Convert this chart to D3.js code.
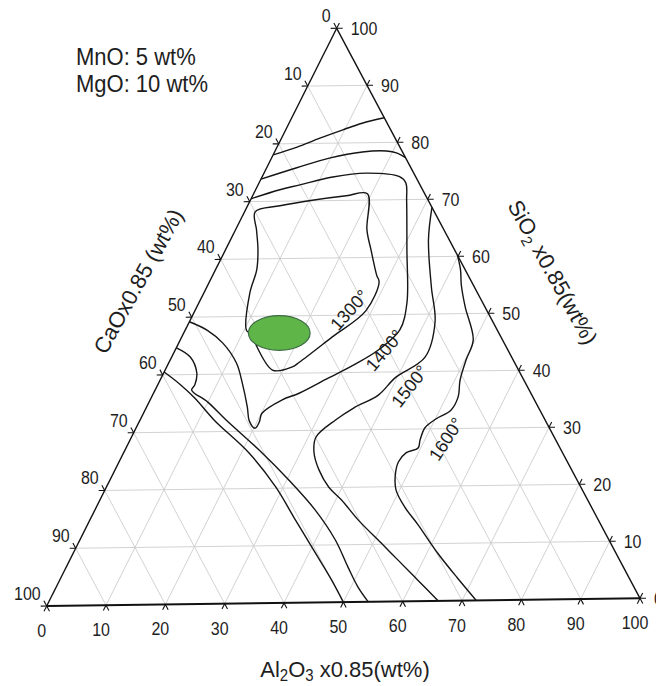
<!DOCTYPE html>
<html>
<head>
<meta charset="utf-8">
<script src="https://cdn.jsdelivr.net/npm/d3@7"></script>
<style>
  body { margin: 0; background: #fff; }
  svg { display: block; }
  text { font-family: "Liberation Sans", Arial, Helvetica, sans-serif; fill: #1e1e1e; }
</style>
</head>
<body>
<svg id="chart" width="656" height="686"></svg>
<script>
// ---------------- DATA (compositions as [Al2O3 x0.85, SiO2 x0.85] wt%) ----------------
const tickValues = [0, 10, 20, 30, 40, 50, 60, 70, 80, 90, 100];
const caoTickLabels = ["0", "10", "20", "30", "40", "50", "60", "70", "80", "90", "100"];
const sio2TickLabels = ["0", "10", "20", "30", "40", "50", "60", "70", "80", "90", "100"];
const al2o3TickLabels = ["0", "10", "20", "30", "40", "50", "60", "70", "80", "90", "100"];

const noteLines = ["MnO: 5 wt%", "MgO: 10 wt%"];

// isotherm 1300 (closed)
const iso1300 = [[1.8,68.2],[5.5,69.2],[10.5,70.1],[15.9,70.8],[19.3,71.1],[22.3,64.8],[24.7,61.3],
  [27.8,56.9],[28.8,55.7],[29.0,50.7],[25.5,46.2],[22.1,41.9],[21.3,41.1],[18.2,40.6],[11.2,47.1],
  [10.4,47.6],[7.8,54.1],[7.0,58.1],[5.5,61.6],[3.6,65.0]];
// isotherm 1400 (both ends on the CaO-SiO2 side)
const iso1400 = [[0,70.5],[4.1,72.0],[7.1,72.8],[12.0,74.1],[17.3,74.7],[23.3,74.0],[24.9,72.9],
  [26.5,69.9],[30.8,61.2],[35.3,52.0],[36.4,47.3],[34.5,43.9],[31.8,41.5],[28.4,39.1],[24.7,36.5],
  [22.4,35.4],[20.1,33.1],[20.4,31.6],[20.2,30.5],[18.6,31.8],[17.1,34.2],[14.2,38.4],[11.5,41.9],
  [7.5,45.4],[3.7,47.7],[0,49.2]];
// isotherm 1500
const iso1500 = [[31.4,68.6],[33.6,62.9],[38.1,54.7],[41.7,48.6],[43.0,42.5],[39.7,39.0],[38.3,36.0],
  [35.2,33.8],[33.2,31.8],[31.3,28.8],[32.3,26.1],[34.6,23.1],[37.7,20.1],[41.0,17.8],[45.5,14.3],
  [51.4,10.2],[55.7,7.2],[60.7,3.7],[66.0,0]];
// isotherm 1600
const iso1600 = [[39.8,60.2],[41.6,57.6],[43.0,55.0],[45.5,51.2],[49.7,45.4],[50.2,41.9],[50.9,38.4],
  [52.0,35.5],[51.9,33.2],[50.1,31.7],[49.0,30.2],[49.2,28.1],[49.55,26.7],[47.95,25.9],[47.4,24.3],
  [48.0,22.0],[49.4,19.4],[52.35,16.4],[56.1,13.3],[61.8,8.35],[67.3,3.95],[72.4,0]];
// upper (silica-rich) unlabeled isotherms
const isoTopA = [[0,78.1],[3.4,79.4],[6.5,80.9],[9.7,82.3],[12.4,83.4],[15.7,84.3]];
const isoTopB = [[0,73.9],[5.1,75.8],[9.8,77.4],[14.9,78.4],[18.9,78.5],[20.9,78.1],[22.7,77.3]];
// lime-rich unlabeled isotherms
const isoLowA = [[0,40.5],[3.7,38.35],[7.4,35.9],[12.6,32.0],[21.3,26.2],[28.75,20.2],[34.9,14.4],
  [41.1,8.6],[46.1,3.9],[50,0]];
const isoLowB = [[0,44.7],[3.1,43.1],[5.6,40.3],[6.3,38.2],[6.2,37.3],[9.9,35.2],[14.6,32.0],
  [22.75,26.7],[30.35,21.4],[37.4,16.1],[43.35,10.85],[47.8,6.1],[51.2,2.6],[54.2,0]];

const isoLabels = ["1300°", "1400°", "1500°", "1600°"];

// green target region: centre composition and half-widths (wt%)
const targetCenter = [16.2, 47.05];
const targetHalfWidth = [5.2, 3.0];

// ---------------- LAYOUT ----------------
const A = [336.7, 28.3];   // SiO2 apex
const B = [46.7, 606];     // CaO corner
const C = [640, 598.3];    // Al2O3 corner
const labelAnchors = [[26.1, 50.9], [35.5, 43.8], [42.8, 37.5], [53.5, 28.2]];
const labelAngles = [-48, -50, -52, -57];

const svg = d3.select("#chart");
const pct = d3.scaleLinear().domain([0, 100]).range([0, 1]);
function proj(al, si) {
  const u = pct(al), v = pct(si);
  return [B[0] + u * (C[0] - B[0]) + v * (A[0] - B[0]),
          B[1] + u * (C[1] - B[1]) + v * (A[1] - B[1])];
}
function unit(p, q) { const dx = q[0] - p[0], dy = q[1] - p[1], L = Math.hypot(dx, dy); return [dx / L, dy / L]; }

// grid
const gridSegs = [];
tickValues.filter(v => v > 0 && v < 100).forEach(v => {
  gridSegs.push([proj(0, v), proj(100 - v, v)]);        // const SiO2
  gridSegs.push([proj(v, 0), proj(v, 100 - v)]);        // const Al2O3
  gridSegs.push([proj(100 - v, 0), proj(0, 100 - v)]);  // const CaO
});
svg.append("g").selectAll("line").data(gridSegs).join("line")
  .attr("x1", d => d[0][0]).attr("y1", d => d[0][1])
  .attr("x2", d => d[1][0]).attr("y2", d => d[1][1])
  .attr("stroke", "#cdcdcd").attr("stroke-width", 0.9);

// triangle frame
const frame = svg.append("g").attr("fill", "none").attr("stroke", "#111");
frame.append("line").attr("x1", B[0]).attr("y1", B[1]).attr("x2", A[0]).attr("y2", A[1]).attr("stroke-width", 1.4);
frame.append("line").attr("x1", A[0]).attr("y1", A[1]).attr("x2", C[0]).attr("y2", C[1]).attr("stroke-width", 1.4);
frame.append("line").attr("x1", B[0]).attr("y1", B[1]).attr("x2", C[0]).attr("y2", C[1]).attr("stroke-width", 2);

// ticks
const tk = 6;
const ticks = [];
const dLeft1 = unit(C, B), dLeft2 = unit(C, A);
const dRight1 = unit(B, C), dRight2 = unit(B, A);
const dBot1 = unit(A, B), dBot2 = unit(A, C);
tickValues.forEach(v => {
  const pl = proj(0, 100 - v);
  ticks.push([pl, dLeft1], [pl, dLeft2]);
  const pr = proj(100 - v, v);
  ticks.push([pr, dRight1], [pr, dRight2]);
  const pb = proj(v, 0);
  ticks.push([pb, dBot1], [pb, dBot2]);
});
svg.append("g").selectAll("line").data(ticks).join("line")
  .attr("x1", d => d[0][0]).attr("y1", d => d[0][1])
  .attr("x2", d => d[0][0] + tk * d[1][0]).attr("y2", d => d[0][1] + tk * d[1][1])
  .attr("stroke", "#111").attr("stroke-width", 1.1);

// tick labels
const tl = svg.append("g").style("font-size", "16px");
tickValues.forEach((v, i) => {
  const pl = proj(0, 100 - v);
  tl.append("text").attr("transform", `translate(${pl[0] - 6},${pl[1] - 6}) scale(1,1.1)`)
    .attr("text-anchor", "end").text(caoTickLabels[i]);
  const pr = proj(100 - v, v);
  tl.append("text").attr("transform", `translate(${pr[0] + 14},${pr[1] + 6.5}) scale(1,1.1)`)
    .attr("text-anchor", "start").text(sio2TickLabels[i]);
  const pb = proj(v, 0);
  tl.append("text").attr("transform", `translate(${pb[0] - 5},${pb[1] + 31}) scale(1,1.1)`)
    .attr("text-anchor", "middle").text(al2o3TickLabels[i]);
});

// contours
const lineGen = d3.line().x(d => proj(d[0], d[1])[0]).y(d => proj(d[0], d[1])[1])
  .curve(d3.curveCatmullRom.alpha(0.5));
const loopGen = d3.line().x(d => proj(d[0], d[1])[0]).y(d => proj(d[0], d[1])[1])
  .curve(d3.curveCatmullRomClosed.alpha(0.5));
const cg = svg.append("g").attr("fill", "none").attr("stroke", "#151515").attr("stroke-width", 1.4)
  .attr("stroke-linejoin", "round");
[iso1400, iso1500, iso1600, isoTopA, isoTopB, isoLowA, isoLowB].forEach(d => cg.append("path").attr("d", lineGen(d)));
cg.append("path").attr("d", loopGen(iso1300));

// green region
const ec = proj(targetCenter[0], targetCenter[1]);
svg.append("ellipse").attr("cx", ec[0]).attr("cy", ec[1])
  .attr("rx", pct(targetHalfWidth[0]) * (C[0] - B[0]))
  .attr("ry", pct(targetHalfWidth[1]) * (B[1] - A[1]))
  .attr("fill", "#5fb548").attr("stroke", "#3c6b45").attr("stroke-width", 1.2);

// isotherm labels
isoLabels.forEach((t, i) => {
  const p = proj(labelAnchors[i][0], labelAnchors[i][1]);
  svg.append("text").attr("transform", `translate(${p[0]},${p[1]}) rotate(${labelAngles[i]})`)
    .attr("text-anchor", "middle").attr("dy", "0.36em").style("font-size", "18px").text(t);
});

// notes
noteLines.forEach((t, i) => {
  svg.append("text").attr("transform", `translate(76,${65 + i * 27}) scale(1,1.06)`)
    .style("font-size", "22px").text(t);
});

// axis titles
const bt = svg.append("text").attr("transform", "translate(345,677) scale(1,1.04)")
  .attr("text-anchor", "middle").style("font-size", "22px");
bt.append("tspan").text("Al");
bt.append("tspan").attr("dy", 4).style("font-size", "15px").text("2");
bt.append("tspan").attr("dy", -4).text("O");
bt.append("tspan").attr("dy", 4).style("font-size", "15px").text("3");
bt.append("tspan").attr("dy", -4).text(" x0.85(wt%)");

const rt = svg.append("text").attr("transform", "translate(553,272) rotate(61)")
  .attr("text-anchor", "middle").attr("y", 8).style("font-size", "22px");
rt.append("tspan").text("SiO");
rt.append("tspan").attr("dy", 5).style("font-size", "15px").text("2");
rt.append("tspan").attr("dy", -5).text(" x0.85(wt%)");

svg.append("text").attr("transform", "translate(138,281) rotate(-61)")
  .attr("text-anchor", "middle").attr("y", 8).style("font-size", "22px").text("CaOx0.85 (wt%)");
</script>
</body>
</html>
